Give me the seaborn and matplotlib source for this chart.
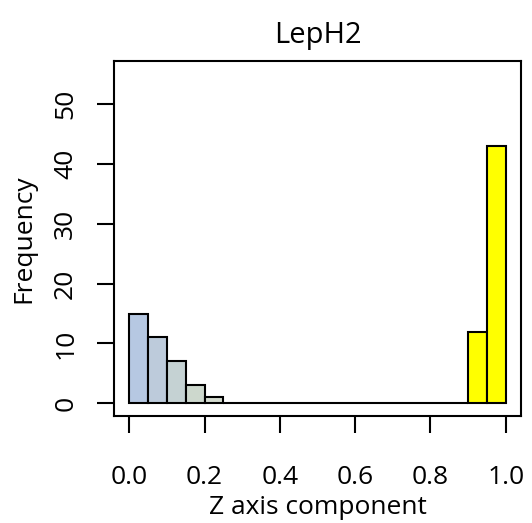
import numpy as np
import seaborn as sns
import matplotlib.pyplot as plt

# histogram of Z axis component, bins of 0.05
bin_edges = [0.00, 0.05, 0.10, 0.15, 0.20, 0.25, 0.30, 0.35, 0.40, 0.45, 0.50,
             0.55, 0.60, 0.65, 0.70, 0.75, 0.80, 0.85, 0.90, 0.95, 1.00]
counts = [15, 11, 7, 3, 1, 0, 0, 0, 0, 0, 0, 0, 0, 0, 0, 0, 0, 0, 12, 43]
bar_colors = ['#b6c8e2', '#bdcbdb', '#c5d2d3', '#cdd8cd', '#d5dcd0'] + ['#d5dcd0'] * 13 + ['#ffff00', '#ffff00']
y_ticks = [0, 10, 20, 30, 40, 50]
x_ticks = [0.0, 0.2, 0.4, 0.6, 0.8, 1.0]

sns.set_style("white")
plt.rcParams['font.family'] = ['Open Sans', 'DejaVu Sans']
plt.rcParams['text.color'] = 'black'
plt.rcParams['axes.labelcolor'] = 'black'

centers = [(a + b) / 2 for a, b in zip(bin_edges[:-1], bin_edges[1:])]

fig = plt.figure(figsize=(5.32, 5.23), dpi=100)
ax = fig.add_axes([0.2149, 0.2046, 0.764, 0.6794])

sns.histplot(x=centers, weights=counts, bins=bin_edges, ax=ax,
             edgecolor='black', linewidth=1.5, alpha=1)
for patch, c in zip(ax.patches, bar_colors):
    patch.set_facecolor(c)

ax.set_xlim(-0.04, 1.04)
ax.set_ylim(-2.1, 57.2)
ax.set_xticks(x_ticks)
ax.set_xticklabels([f"{t:.1f}" for t in x_ticks])
ax.set_yticks(y_ticks)
ax.set_yticklabels([str(t) for t in y_ticks], rotation=90, va='center')
ax.tick_params(axis='both', direction='out', length=12, width=1.5,
               labelsize=19, colors='black', bottom=True, left=True)
ax.tick_params(axis='x', pad=23)
ax.tick_params(axis='y', pad=14)

for s in ax.spines.values():
    s.set_linewidth(1.5)
    s.set_color('black')

ax.set_xlabel("Z axis component", fontsize=19, labelpad=4)
ax.set_ylabel("Frequency", fontsize=19, labelpad=12)
ax.set_title("LepH2", fontsize=21, pad=13)

fig.savefig("out.png", dpi=100)
